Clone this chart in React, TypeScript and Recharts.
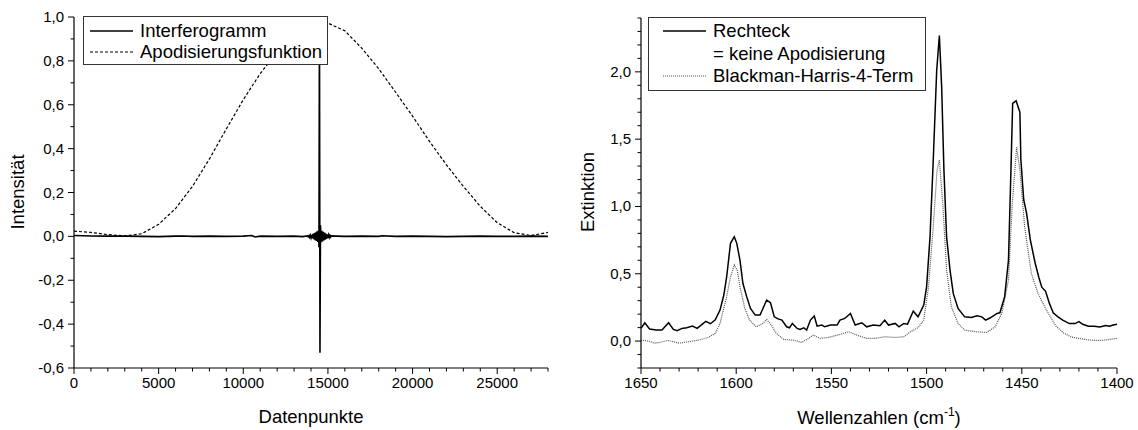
import React from "react";
import { LineChart, Line, XAxis, YAxis, Legend, Label } from "recharts";

const FONT = "Arial, 'Liberation Sans', Helvetica, sans-serif";

// ---- left panel: interferogram + apodization function ----
const apodPoints = [0, 1000, 2000, 3000, 4000, 5000, 6000, 7000, 8000, 9000, 10000, 11000, 12000, 13000, 14000, 14500, 15000, 16000, 17000, 18000, 19000, 20000, 21000, 22000, 23000, 24000, 25000, 26000, 27000, 28000];
const apodValues = [0.024, 0.018, 0.008, 0.002, 0.012, 0.055, 0.127, 0.228, 0.353, 0.49, 0.623, 0.742, 0.84, 0.915, 0.965, 0.978, 0.972, 0.937, 0.858, 0.764, 0.657, 0.548, 0.433, 0.326, 0.228, 0.137, 0.062, 0.017, 0.004, 0.018];

const ifgPoints = [0, 500, 1000, 2000, 3000, 4000, 5000, 6000, 6500, 7000, 8000, 9000, 10000, 10500, 10700, 11000, 12000, 13000, 13500,
  13800, 13840, 13880, 13920, 13960, 14000, 14040, 14080, 14120, 14160, 14200, 14240, 14280, 14320, 14360, 14400, 14440, 14470,
  14500, 14530, 14560, 14600, 14640, 14680, 14720, 14760, 14800, 14840, 14880, 14920, 14960, 15000, 15040, 15080, 15120, 15160, 15200,
  15500, 16000, 17000, 18000, 18200, 19000, 20000, 21000, 22000, 23000, 24000, 25000, 26000, 27000, 28000];
const ifgValues = [0.004, 0.003, 0.002, 0.001, 0.001, 0.0, -0.001, 0.001, 0.002, 0.0, 0.001, 0.0, 0.001, 0.004, -0.003, 0.001, 0.0, 0.001, -0.001,
  0.002, -0.002, 0.003, -0.004, 0.005, -0.006, 0.007, -0.009, 0.011, -0.013, 0.015, -0.017, 0.019, -0.021, 0.023, -0.025, 0.026, -0.05,
  1.0, -0.53, 0.05, -0.026, 0.025, -0.023, 0.021, -0.019, 0.017, -0.015, 0.013, -0.011, 0.009, -0.007, 0.006, -0.005, 0.004, -0.003, 0.002,
  0.001, 0.0, 0.001, 0.0, 0.003, 0.0, 0.001, 0.0, -0.001, 0.0, 0.001, 0.0, 0.0, 0.001, 0.0];

const leftXTicks = [0, 1000, 2000, 3000, 4000, 5000, 6000, 7000, 8000, 9000, 10000, 11000, 12000, 13000, 14000, 15000, 16000, 17000, 18000, 19000, 20000, 21000, 22000, 23000, 24000, 25000, 26000, 27000, 28000];
const leftYTicks = [-0.6, -0.5, -0.4, -0.3, -0.2, -0.1, 0, 0.1, 0.2, 0.3, 0.4, 0.5, 0.6, 0.7, 0.8, 0.9, 1.0];

// ---- right panel: spectra ----
const rectWn = [1650, 1648, 1645.5, 1642, 1639, 1635.5, 1633, 1631, 1628.5, 1626, 1623, 1620.5, 1616, 1613.5, 1611, 1608.5, 1606.5, 1605, 1603, 1601, 1599.7, 1598, 1596.5, 1594.5, 1592.5, 1590, 1587.5, 1584, 1582, 1580, 1578, 1576, 1573.5, 1572, 1570.5, 1568, 1566.5, 1564.5, 1563, 1561, 1559, 1557.5, 1555, 1553.5, 1550.5, 1547, 1545.5, 1543, 1540, 1537.5, 1534, 1531.5, 1528, 1524.5, 1522, 1520, 1516.5, 1514.5, 1512, 1510, 1507, 1504.5, 1501.5, 1500, 1498.2, 1496.5, 1494.7, 1493.3, 1492.1, 1490.9, 1489.5, 1487.7, 1486, 1483.5, 1480, 1476.5, 1473.5, 1471, 1469, 1466.5, 1463, 1461.5, 1459, 1457, 1455.7, 1454.8, 1453, 1451, 1450.5, 1449, 1447.5, 1445.5, 1443, 1441, 1439.5, 1437.5, 1435.5, 1433.5, 1431, 1428.5, 1425, 1422, 1420, 1418, 1415, 1412, 1409, 1406, 1404, 1402, 1400];
const rectValues = [0.094, 0.136, 0.09, 0.082, 0.082, 0.136, 0.087, 0.077, 0.094, 0.099, 0.111, 0.094, 0.146, 0.129, 0.158, 0.23, 0.342, 0.478, 0.726, 0.775, 0.726, 0.6, 0.429, 0.33, 0.243, 0.193, 0.193, 0.305, 0.285, 0.18, 0.165, 0.156, 0.106, 0.099, 0.131, 0.094, 0.087, 0.099, 0.082, 0.156, 0.186, 0.111, 0.119, 0.106, 0.119, 0.119, 0.156, 0.168, 0.205, 0.119, 0.136, 0.106, 0.119, 0.114, 0.156, 0.119, 0.131, 0.106, 0.131, 0.126, 0.223, 0.18, 0.267, 0.403, 0.775, 1.345, 2.01, 2.27, 1.89, 1.27, 0.775, 0.527, 0.354, 0.243, 0.18, 0.175, 0.188, 0.18, 0.156, 0.173, 0.205, 0.21, 0.33, 0.6, 1.27, 1.766, 1.785, 1.7, 1.35, 1.05, 0.95, 0.75, 0.58, 0.47, 0.4, 0.37, 0.28, 0.21, 0.18, 0.155, 0.13, 0.13, 0.145, 0.125, 0.11, 0.11, 0.105, 0.115, 0.11, 0.12, 0.125];

const bhWn = [1650, 1646, 1643, 1640, 1636, 1633, 1630, 1625, 1620, 1615, 1611, 1608.5, 1605, 1603, 1601, 1599.5, 1598, 1595.5, 1593, 1589.5, 1586, 1584, 1581.5, 1579, 1575, 1570, 1565.5, 1562, 1559.5, 1556, 1551.5, 1545.5, 1541, 1536.5, 1531.5, 1527, 1522, 1516, 1512, 1508.5, 1504.5, 1501.5, 1499, 1496.5, 1494.5, 1493.3, 1491.5, 1489.5, 1487, 1483.5, 1480, 1474, 1468.5, 1464, 1460.5, 1457, 1455, 1452.7, 1451, 1448.5, 1445, 1441.5, 1438, 1435, 1432, 1428, 1424, 1420, 1416, 1412, 1408, 1404, 1400];
const bhValues = [0.007, 0.0, -0.015, -0.01, 0.005, -0.005, -0.015, -0.005, 0.007, 0.025, 0.057, 0.131, 0.33, 0.478, 0.565, 0.53, 0.403, 0.243, 0.156, 0.106, 0.131, 0.161, 0.119, 0.057, 0.012, 0.007, -0.01, 0.02, 0.044, 0.02, 0.027, 0.049, 0.069, 0.044, 0.02, 0.02, 0.032, 0.027, 0.032, 0.069, 0.1, 0.156, 0.403, 0.85, 1.27, 1.345, 1.02, 0.527, 0.255, 0.131, 0.082, 0.069, 0.064, 0.106, 0.205, 0.453, 1.02, 1.44, 1.27, 0.85, 0.503, 0.354, 0.255, 0.18, 0.11, 0.06, 0.03, 0.02, 0.01, 0.005, 0.005, 0.012, 0.02];

const rightXTicks = [1400, 1410, 1420, 1430, 1440, 1450, 1460, 1470, 1480, 1490, 1500, 1510, 1520, 1530, 1540, 1550, 1560, 1570, 1580, 1590, 1600, 1610, 1620, 1630, 1640, 1650];
const rightYTicks = [-0.2, -0.1, 0, 0.1, 0.2, 0.3, 0.4, 0.5, 0.6, 0.7, 0.8, 0.9, 1.0, 1.1, 1.2, 1.3, 1.4, 1.5, 1.6, 1.7, 1.8, 1.9, 2.0, 2.1, 2.2, 2.3, 2.4];

const zip = (xs: number[], ys: number[]) => xs.map((x, i) => ({ x, y: ys[i] }));
const apodData = zip(apodPoints, apodValues);
const ifgData = zip(ifgPoints, ifgValues);
const rectData = zip(rectWn, rectValues);
const bhData = zip(bhWn, bhValues);

const comma = (v: number) => v.toFixed(1).replace(".", ",");

// ticks are drawn by hand so minor ticks get no label; tickSize/tickMargin 0 => (x, y) sits on the axis line
const makeXTick = (isMajor: (v: number) => boolean) => (props: any) => {
  const { x, y, payload } = props;
  const major = isMajor(payload.value);
  return (
    <g>
      <line x1={x} y1={y} x2={x} y2={y + (major ? 6 : 3.5)} stroke="#000" strokeWidth={1} />
      {major && (
        <text x={x} y={y + 20} textAnchor="middle" fontSize={15} fontFamily={FONT} fill="#000">
          {String(payload.value)}
        </text>
      )}
    </g>
  );
};

const makeYTick = (isMajor: (v: number) => boolean) => (props: any) => {
  const { x, y, payload } = props;
  const major = isMajor(payload.value);
  return (
    <g>
      <line x1={x} y1={y} x2={x - (major ? 6 : 3.5)} y2={y} stroke="#000" strokeWidth={1} />
      {major && (
        <text x={x - 10} y={y + 5} textAnchor="end" fontSize={15} fontFamily={FONT} fill="#000">
          {comma(payload.value)}
        </text>
      )}
    </g>
  );
};

interface LegendItem {
  label: string;
  sample: "solid" | "dashed" | "dotted" | "none";
}

const LegendBox = ({ items, rowHeight, padLeft, padTop, width }: { items: LegendItem[]; rowHeight: number; padLeft: number; padTop: number; width: number }) => (
  <div
    style={{
      width,
      boxSizing: "border-box",
      border: "1px solid #333",
      background: "#fff",
      paddingLeft: padLeft,
      paddingTop: padTop,
      paddingBottom: 2,
      fontFamily: FONT,
      fontSize: 18.5,
      color: "#000",
    }}
  >
    {items.map((it) => (
      <div key={it.label} style={{ display: "flex", alignItems: "center", height: rowHeight, whiteSpace: "nowrap" }}>
        <svg width={43} height={4} style={{ marginRight: 7, flex: "none" }}>
          {it.sample !== "none" && (
            <line
              x1={0}
              y1={2}
              x2={43}
              y2={2}
              stroke={it.sample === "dotted" ? "#555" : "#000"}
              strokeWidth={it.sample === "solid" ? 1.4 : 1.2}
              strokeDasharray={it.sample === "dashed" ? "3 2" : it.sample === "dotted" ? "1 1" : undefined}
            />
          )}
        </svg>
        <span>{it.label}</span>
      </div>
    ))}
  </div>
);

const leftLegend: LegendItem[] = [
  { label: "Interferogramm", sample: "solid" },
  { label: "Apodisierungsfunktion", sample: "dashed" },
];
const rightLegend: LegendItem[] = [
  { label: "Rechteck", sample: "solid" },
  { label: "= keine Apodisierung", sample: "none" },
  { label: "Blackman-Harris-4-Term", sample: "dotted" },
];

const YTitle = ({ x, y, text }: { x: number; y: number; text: string }) => (
  <text x={x} y={y} transform={`rotate(-90 ${x} ${y})`} textAnchor="middle" dominantBaseline="central" fontSize={18.5} fontFamily={FONT} fill="#000">
    {text}
  </text>
);

export default function App() {
  return (
    <div style={{ position: "absolute", left: 0, top: 0, width: 1138, height: 430, background: "#fff" }}>
      <div style={{ position: "absolute", left: 0, top: 0 }}>
        <LineChart width={560} height={430} margin={{ top: 17, right: 12, bottom: 12, left: 24 }}>
          <XAxis
            dataKey="x"
            type="number"
            domain={[0, 28000]}
            ticks={leftXTicks}
            interval={0}
            height={50}
            tickSize={0}
            tickMargin={0}
            tickLine={false}
            axisLine={{ stroke: "#000", strokeWidth: 1.2 }}
            tick={makeXTick((v) => v % 5000 === 0)}
          >
            <Label
              content={() => (
                <text x={311} y={423} textAnchor="middle" fontSize={18.5} fontFamily={FONT} fill="#000">
                  Datenpunkte
                </text>
              )}
            />
          </XAxis>
          <YAxis
            type="number"
            domain={[-0.6, 1.0]}
            ticks={leftYTicks}
            interval={0}
            width={50}
            tickSize={0}
            tickMargin={0}
            tickLine={false}
            axisLine={{ stroke: "#000", strokeWidth: 1.2 }}
            tick={makeYTick((v) => Math.round(v * 10) % 2 === 0)}
          >
            <Label content={() => <YTitle x={17} y={192} text="Intensität" />} />
          </YAxis>
          <Line data={apodData} dataKey="y" type="linear" stroke="#000" strokeWidth={1.2} strokeDasharray="3 2" dot={false} isAnimationActive={false} />
          <Line data={ifgData} dataKey="y" type="linear" stroke="#000" strokeWidth={1.6} dot={false} isAnimationActive={false} />
          <Legend
            layout="vertical"
            align="center"
            verticalAlign="middle"
            wrapperStyle={{ left: 83, top: 16, width: 245, height: 48 }}
            content={() => <LegendBox items={leftLegend} rowHeight={21} padLeft={6} padTop={3} width={245} />}
          />
        </LineChart>
      </div>
      <div style={{ position: "absolute", left: 560, top: 0 }}>
        <LineChart width={578} height={430} margin={{ top: 18, right: 21, bottom: 12, left: 31 }}>
          <XAxis
            dataKey="x"
            type="number"
            domain={[1400, 1650]}
            reversed
            ticks={rightXTicks}
            interval={0}
            height={50}
            tickSize={0}
            tickMargin={0}
            tickLine={false}
            axisLine={{ stroke: "#000", strokeWidth: 1.2 }}
            tick={makeXTick((v) => v % 50 === 0)}
          >
            <Label
              content={() => (
                <text x={319} y={424} textAnchor="middle" fontSize={18.5} fontFamily={FONT} fill="#000">
                  Wellenzahlen (cm
                  <tspan fontSize={12} dy={-8}>-1</tspan>
                  <tspan dy={8}>)</tspan>
                </text>
              )}
            />
          </XAxis>
          <YAxis
            type="number"
            domain={[-0.2, 2.4]}
            ticks={rightYTicks}
            interval={0}
            width={50}
            tickSize={0}
            tickMargin={0}
            tickLine={false}
            axisLine={{ stroke: "#000", strokeWidth: 1.2 }}
            tick={makeYTick((v) => Math.round(v * 10) % 5 === 0)}
          >
            <Label content={() => <YTitle x={27} y={192} text="Extinktion" />} />
          </YAxis>
          <Line data={bhData} dataKey="y" type="linear" stroke="#555" strokeWidth={1.2} strokeDasharray="1 1" dot={false} isAnimationActive={false} />
          <Line data={rectData} dataKey="y" type="linear" stroke="#000" strokeWidth={1.5} dot={false} isAnimationActive={false} />
          <Legend
            layout="vertical"
            align="center"
            verticalAlign="middle"
            wrapperStyle={{ left: 88, top: 17, width: 278, height: 72 }}
            content={() => <LegendBox items={rightLegend} rowHeight={22.5} padLeft={14} padTop={2} width={278} />}
          />
        </LineChart>
      </div>
    </div>
  );
}
